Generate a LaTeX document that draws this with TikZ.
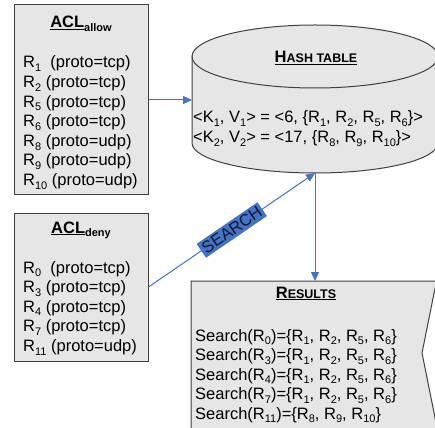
\documentclass[tikz,border=0pt]{standalone}
\usepackage{fontspec}
\setmainfont{Liberation Sans}
\usetikzlibrary{arrows.meta}
\definecolor{boxfill}{HTML}{E6E6E6}
\definecolor{boxline}{HTML}{404040}
\definecolor{arrblue}{HTML}{4472C4}
\definecolor{labtext}{HTML}{101830}
\newcommand{\sbs}[1]{\raisebox{-0.22em}{\fontsize{11}{11}\selectfont #1}}
\newcommand{\smc}[1]{{\fontsize{12.5}{12}\selectfont #1}}
\begin{document}
\begin{tikzpicture}[x=1pt,y=-1pt,
  panel/.style={draw=boxline, fill=boxfill, line width=1pt},
  txt/.style={anchor=base west, inner sep=0pt, font=\fontsize{16.5}{19.6}\selectfont},
  ttl/.style={anchor=base, inner sep=0pt, font=\fontsize{16.5}{19.6}\selectfont\bfseries},
  link/.style={draw=arrblue, line width=1pt, -{Triangle[length=9pt,width=8pt]}},
  tag/.style={sloped, fill=arrblue, text=labtext, inner sep=2.5pt, font=\fontsize{16.5}{16.5}\selectfont},
]
\useasboundingbox (0,0) rectangle (435,427);

% ACL allow
\node[panel, minimum width=134pt, minimum height=190pt, inner sep=0pt] (allow) at (81,100) {};
\node[ttl] (allowt) at (81,28) {\underline{ACL}\sbs{allow}};
\foreach \t [count=\i from 0] in {{R\sbs{1}\ \ (proto=tcp)}, {R\sbs{2} (proto=tcp)}, {R\sbs{5} (proto=tcp)}, {R\sbs{6} (proto=tcp)}, {R\sbs{8} (proto=udp)}, {R\sbs{9} (proto=udp)}, {R\sbs{10} (proto=udp)}}
  \node[txt] (al\i) at (23,68+19.6*\i) {\t};

% ACL deny
\node[panel, minimum width=134pt, minimum height=148pt, inner sep=0pt] (deny) at (81,287) {};
\node[ttl] (denyt) at (81,233) {\underline{ACL}\sbs{deny}};
\foreach \t [count=\i from 0] in {{R\sbs{0}\ \ (proto=tcp)}, {R\sbs{3} (proto=tcp)}, {R\sbs{4} (proto=tcp)}, {R\sbs{7} (proto=tcp)}, {R\sbs{11} (proto=udp)}}
  \node[txt] (dl\i) at (23,273+19.6*\i) {\t};

% Hash table cylinder
\path[panel] (192,56.5) -- (192,143) arc[start angle=180, end angle=360, x radius=123pt, y radius=30pt]
  -- (438,56.5) arc[start angle=0, end angle=180, x radius=123pt, y radius=31.5pt] -- cycle;
\draw[draw=boxline, line width=1pt] (192,56.5) arc[start angle=180, end angle=360, x radius=123pt, y radius=31.5pt];
\node[ttl] (hasht) at (316,63) {\underline{H\smc{ASH TABLE}}};
\node[txt] (h1) at (193,123) {<K\sbs{1}, V\sbs{1}> = <6, \{R\sbs{1}, R\sbs{2}, R\sbs{5}, R\sbs{6}\}>};
\node[txt] (h2) at (193,143) {<K\sbs{2}, V\sbs{2}> = <17, \{R\sbs{8}, R\sbs{9}, R\sbs{10}\}>};
\coordinate (hl) at (192,100);
\coordinate (hb) at (315,173);

% Results
\path[panel] (191,281) -- (436.5,281) -- (422,353) -- (436.5,425) -- (436.5,430) -- (191,430) -- cycle;
\coordinate (rt) at (315,281);
\node[ttl] (rest) at (306,298) {\underline{R\smc{ESULTS}}};
\foreach \t [count=\i from 0] in {{Search(R\sbs{0})=\{R\sbs{1}, R\sbs{2}, R\sbs{5}, R\sbs{6}\}}, {Search(R\sbs{3})=\{R\sbs{1}, R\sbs{2}, R\sbs{5}, R\sbs{6}\}}, {Search(R\sbs{4})=\{R\sbs{1}, R\sbs{2}, R\sbs{5}, R\sbs{6}\}}, {Search(R\sbs{7})=\{R\sbs{1}, R\sbs{2}, R\sbs{5}, R\sbs{6}\}}, {Search(R\sbs{11})=\{R\sbs{8}, R\sbs{9}, R\sbs{10}\}}}
  \node[txt] (rl\i) at (195,341+19.5*\i) {\t};

% Connectors
\draw[link] (allow.east) -- (hl);
\draw[link] (deny.east) -- node[tag] (srch) {SEARCH} (hb);
\draw[link] (hb) -- (rt);
\end{tikzpicture}
\end{document}
